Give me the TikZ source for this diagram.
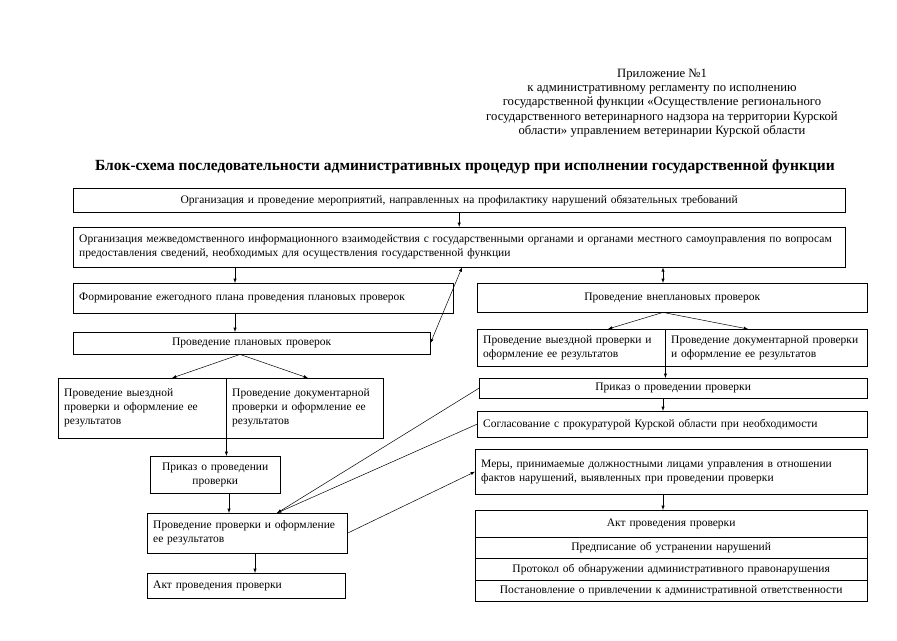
\documentclass[tikz,border=0pt]{standalone}
\usepackage{fontspec}
\setmainfont{Liberation Serif}
\usetikzlibrary{positioning}

\tikzset{
  blk/.style={draw, rectangle, anchor=north west, inner xsep=6pt, inner ysep=0pt, font=\fontsize{11.5}{14}\selectfont},
  arr/.style={-latex, line width=0.5pt},
  dbl/.style={latex-latex, line width=0.5pt}
}

\begin{document}
\begin{tikzpicture}[x=1pt, y=-1pt]
  \useasboundingbox (0,0) rectangle (897,640);

  % header
  \node[align=center, font=\fontsize{12.7}{14.2}\selectfont] (hdr) at (662,103)
    {Приложение №1\\к административному регламенту по исполнению\\государственной функции «Осуществление регионального\\государственного ветеринарного надзора на территории Курской\\области» управлением ветеринарии Курской области};
  \node[font=\fontsize{15.5}{17}\bfseries] (ttl) at (465,167)
    {Блок-схема последовательности административных процедур при исполнении государственной функции};

  % top boxes
  \node[blk, minimum width=772pt, minimum height=24pt, text width=760pt, align=center] (org) at (73,188)
    {Организация и проведение мероприятий, направленных на профилактику нарушений обязательных требований};
  \node[blk, minimum width=772pt, minimum height=40pt, text width=760pt, align=left] (inter) at (73,227)
    {Организация межведомственного информационного взаимодействия с государственными органами и органами местного самоуправления по вопросам\\предоставления сведений, необходимых для осуществления государственной функции};

  % planned branch
  \node[blk, minimum width=380pt, minimum height=30pt, text width=368pt, align=left] (plan) at (73,283)
    {Формирование ежегодного плана проведения плановых проверок};
  \node[blk, minimum width=357pt, minimum height=22pt, text width=345pt, align=center] (planned) at (73,332)
    {Проведение плановых проверок};
  \node[blk, minimum width=168pt, minimum height=60pt, text width=156pt, align=left] (vyezd) at (58,378)
    {Проведение выездной\\проверки и оформление ее\\результатов};
  \node[blk, minimum width=157pt, minimum height=60pt, text width=145pt, align=left] (doc) at (226,378)
    {Проведение документарной\\проверки и оформление ее\\результатов};
  \node[blk, minimum width=130pt, minimum height=37pt, text width=118pt, align=center] (prikazL) at (150,456)
    {Приказ о проведении\\проверки};
  \node[blk, minimum width=200pt, minimum height=40pt, text width=188pt, align=left] (checkL) at (147,513)
    {Проведение проверки и оформление\\ее результатов};
  \node[blk, minimum width=198pt, minimum height=25pt, text width=186pt, align=left] (actL) at (147,573)
    {Акт проведения проверки};

  % unplanned branch
  \node[blk, minimum width=390pt, minimum height=29pt, text width=378pt, align=center] (unplanned) at (477,283)
    {Проведение внеплановых проверок};
  \node[blk, minimum width=188pt, minimum height=37pt, text width=176pt, align=left] (vyezdR) at (477,329)
    {Проведение выездной проверки и\\оформление ее результатов};
  \node[blk, minimum width=202pt, minimum height=37pt, text width=190pt, align=left] (docR) at (665,329)
    {Проведение документарной проверки\\и оформление ее результатов};
  \node[blk, minimum width=388pt, minimum height=20pt, text width=376pt, align=center] (prikazR) at (479,378)
    {Приказ о проведении проверки};
  \node[blk, minimum width=390pt, minimum height=26pt, text width=378pt, align=left] (soglas) at (477,411)
    {Согласование с прокуратурой Курской области при необходимости};
  \node[blk, minimum width=392pt, minimum height=45pt, text width=380pt, align=left] (mery) at (475,449)
    {Меры, принимаемые должностными лицами управления в отношении\\фактов нарушений, выявленных при проведении проверки};

  % result stack
  \node[blk, minimum width=392pt, minimum height=27pt, text width=380pt, align=center] (act) at (475,510)
    {Акт проведения проверки};
  \node[blk, minimum width=392pt, minimum height=21pt, text width=380pt, align=center] (predp) at (475,537)
    {Предписание об устранении нарушений};
  \node[blk, minimum width=392pt, minimum height=22pt, text width=380pt, align=center] (protocol) at (475,558)
    {Протокол об обнаружении административного правонарушения};
  \node[blk, minimum width=392pt, minimum height=21pt, text width=380pt, align=center] (postan) at (475,580)
    {Постановление о привлечении к административной ответственности};

  % connectors
  \draw[arr] (org.south) -- (inter.north);
  \draw[arr] (inter.south -| 235,0) -- (plan.north -| 235,0);
  \draw[arr] (plan.south -| 235,0) -- (planned.north -| 235,0);
  \draw[dbl] (planned.east) -- (inter.south -| 462,0);
  \draw[arr] (planned.south -| 240,0) -- (vyezd.north -| 172,0);
  \draw[arr] (planned.south -| 240,0) -- (doc.north -| 308,0);
  \draw[arr] (vyezd.south east) -- (prikazL.north -| vyezd.south east);
  \draw[arr] (prikazL.south -| 229,0) -- (checkL.north -| 229,0);
  \draw[arr] (checkL.south -| 255,0) -- (actL.north -| 255,0);

  \draw[dbl] (inter.south -| 663,0) -- (unplanned.north -| 663,0);
  \draw[arr] (unplanned.south -| 663,0) -- (vyezdR.north -| 608,0);
  \draw[arr] (unplanned.south -| 663,0) -- (docR.north -| 748,0);
  \draw[arr] (vyezdR.south east) -- (prikazR.north -| vyezdR.south east);
  \draw[arr] (prikazR.south -| 663,0) -- (soglas.north -| 663,0);
  \draw[arr] (prikazR.west) -- (checkL.north -| 277,0);
  \draw[arr] (soglas.west) -- (checkL.north -| 277,0);
  \draw[arr] (checkL.east) -- (mery.west);
  \draw[arr] (mery.south -| 663,0) -- (act.north -| 663,0);
\end{tikzpicture}
\end{document}
